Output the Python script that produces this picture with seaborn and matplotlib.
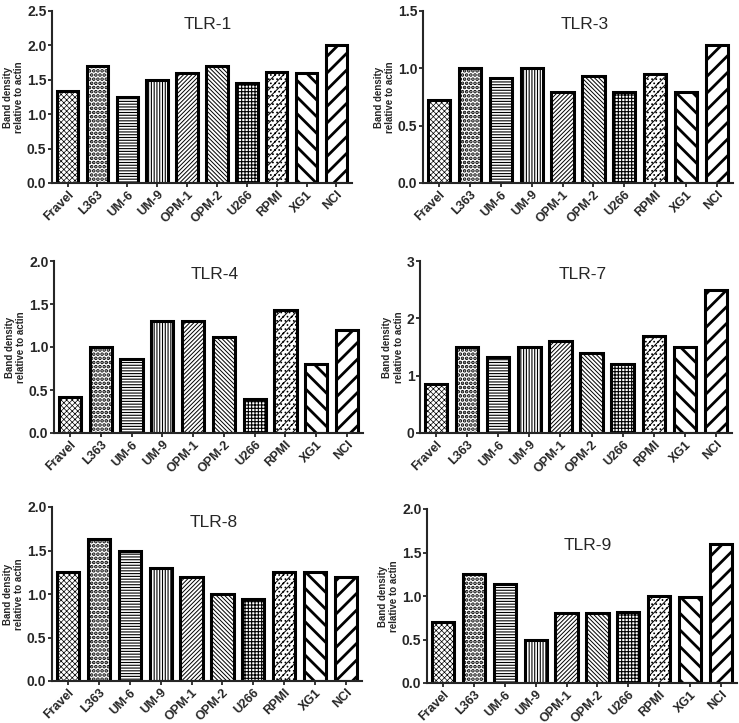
import pandas as pd
import matplotlib
matplotlib.use("Agg")
import matplotlib.pyplot as plt
import seaborn as sns

sns.set_style("ticks")
plt.rcParams['font.family'] = ['Liberation Sans', 'DejaVu Sans']
plt.rcParams['hatch.linewidth'] = 0.8

cells = ["Fravel", "L363", "UM-6", "UM-9", "OPM-1", "OPM-2", "U266", "RPMI", "XG1", "NCI"]

tlr1 = [1.33, 1.70, 1.25, 1.50, 1.60, 1.70, 1.45, 1.62, 1.60, 2.00]
tlr3 = [0.72, 1.00, 0.92, 1.00, 0.79, 0.93, 0.79, 0.95, 0.79, 1.20]
tlr4 = [0.42, 1.00, 0.86, 1.30, 1.30, 1.12, 0.40, 1.43, 0.80, 1.20]
tlr7 = [0.85, 1.50, 1.32, 1.50, 1.60, 1.40, 1.20, 1.70, 1.50, 2.50]
tlr8 = [1.25, 1.63, 1.50, 1.30, 1.20, 1.00, 0.94, 1.25, 1.25, 1.20]
tlr9 = [0.70, 1.25, 1.14, 0.50, 0.80, 0.80, 0.82, 1.00, 0.99, 1.60]

# hatch for each cell line
hatches = ["xxxxxx", "....", "------", "||||||", "////////", "\\\\\\\\\\\\\\\\", "+++++", "////....", "\\\\", "//"]
hatch_lw = [0.5, 1.8, 0.8, 0.8, 0.7, 0.7, 0.8, 0.7, 2.0, 2.0]

# (title, values, ymax, ticks, rect in pixels: left, top, right, bottom, title y)
panels = [
    ("TLR-1", tlr1, 2.5, [0, 0.5, 1.0, 1.5, 2.0, 2.5], (52, 11, 352, 183), 0.92),
    ("TLR-3", tlr3, 1.5, [0, 0.5, 1.0, 1.5], (423, 11, 733, 183), 0.92),
    ("TLR-4", tlr4, 2.0, [0, 0.5, 1.0, 1.5, 2.0], (54, 261, 363, 433), 0.92),
    ("TLR-7", tlr7, 3.0, [0, 1, 2, 3], (420, 261, 732, 433), 0.92),
    ("TLR-8", tlr8, 2.0, [0, 0.5, 1.0, 1.5, 2.0], (52, 507, 362, 681), 0.91),
    ("TLR-9", tlr9, 2.0, [0, 0.5, 1.0, 1.5, 2.0], (427, 509, 737, 683), 0.79),
]

W, H = 739, 723
fig = plt.figure(figsize=(W / 100, H / 100), dpi=100)

for title, vals, ymax, ticks, (l, t, r, b), ty in panels:
    ax = fig.add_axes([l / W, 1 - b / H, (r - l) / W, (b - t) / H])
    df = pd.DataFrame({"cell": cells, "value": vals})
    sns.barplot(data=df, x="cell", y="value", color="white", saturation=1,
                edgecolor="black", linewidth=2.2, width=0.72, ax=ax)
    for p, h, lw in zip(ax.patches, hatches, hatch_lw):
        p.set_hatch(h)
        if hasattr(p, "set_hatch_linewidth"):
            p.set_hatch_linewidth(lw)
    ax.set_xlim(-0.52, 9.52)
    ax.set_ylim(0, ymax)
    ax.set_yticks(ticks)
    if ymax == 3.0:
        ax.set_yticklabels([str(int(v)) for v in ticks])
    else:
        ax.set_yticklabels([f"{v:.1f}" for v in ticks])
    ax.set_xlabel("")
    ax.set_ylabel("Band density\nrelative to actin", fontsize=7, fontweight="bold", labelpad=2)
    ax.tick_params(axis="y", labelsize=10, width=1.3, length=3, pad=1)
    ax.tick_params(axis="x", labelsize=9, width=1.3, length=3, pad=1)
    for lab in ax.get_xticklabels():
        lab.set_rotation(45)
        lab.set_ha("right")
        lab.set_rotation_mode("anchor")
        lab.set_fontweight("bold")
    for lab in ax.get_yticklabels():
        lab.set_fontweight("bold")
    ax.text(0.52, ty, title, transform=ax.transAxes, ha="center", va="center", fontsize=12.5)
    sns.despine(ax=ax)
    ax.spines["left"].set_linewidth(1.5)
    ax.spines["bottom"].set_linewidth(1.5)

fig.savefig("out.png", dpi=100)
